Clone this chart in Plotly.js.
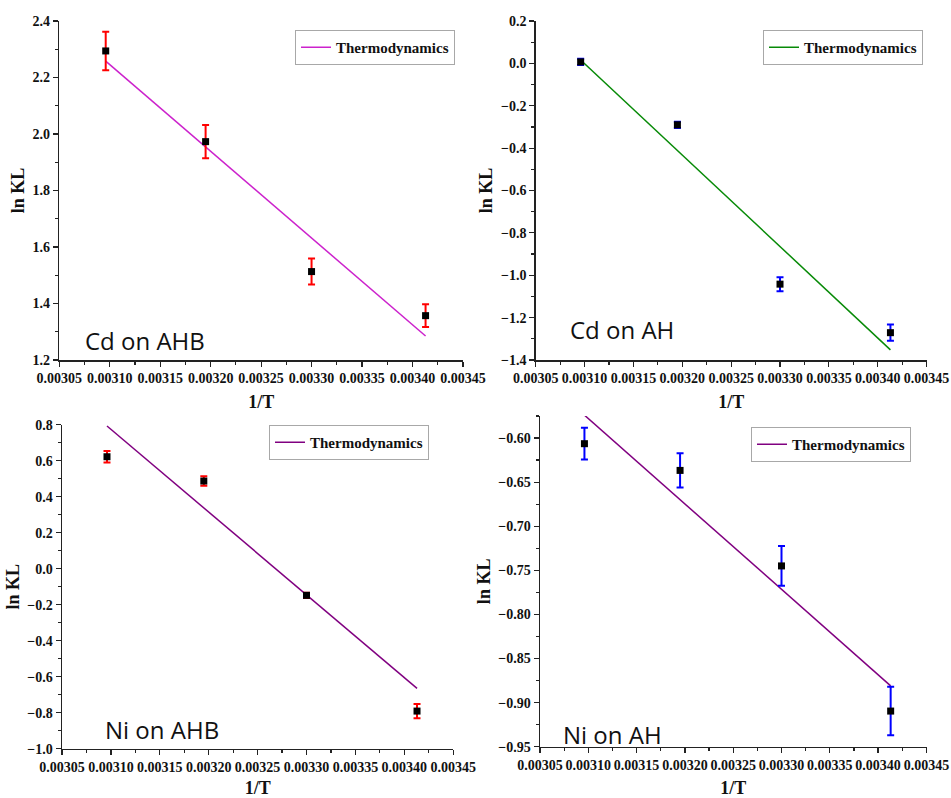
<!DOCTYPE html>
<html>
<head>
<meta charset="utf-8">
<script src="https://cdn.plot.ly/plotly-3.0.1.min.js"></script>
<style>html,body{margin:0;padding:0;background:#fff;}#chart{width:951px;height:798px;}</style>
</head>
<body>
<div id="chart"></div>
<script>
// 1/T values (K^-1)
const invT = [0.003096, 0.003195, 0.0033, 0.003413];
const fitX = [0.003096, 0.003413];

// Cd on AHB
const cdAHB = [2.294, 1.973, 1.513, 1.357];
const cdAHBErr = [0.068, 0.059, 0.046, 0.040];
const cdAHBFit = [2.258, 1.285];

// Cd on AH
const cdAH = [0.007, -0.290, -1.042, -1.271];
const cdAHErr = [0.015, 0.015, 0.033, 0.038];
const cdAHFit = [0.016, -1.352];

// Ni on AHB
const niAHB = [0.622, 0.487, -0.148, -0.791];
const niAHBErr = [0.032, 0.026, 0.015, 0.040];
const niAHBFit = [0.793, -0.665];

// Ni on AH
const niAH = [-0.6064, -0.6367, -0.745, -0.9096];
const niAHErr = [0.018, 0.0195, 0.0225, 0.0275];
const niAHFit = [-0.574, -0.881];

const panelLabels = ["Cd on AHB", "Cd on AH", "Ni on AHB", "Ni on AH"];
const legendName = "Thermodynamics";
const xTitle = "1/T";
const yTitle = "ln KL";

const W = 951, H = 798;
const serif = '"Liberation Serif", "Times New Roman", serif';

function pts(x, y, err, errColor, xa, ya) {
  return {
    x: x, y: y, type: "scatter", mode: "markers", showlegend: false,
    xaxis: xa, yaxis: ya,
    marker: {symbol: "square", size: 7, color: "#000"},
    error_y: {type: "data", array: err, visible: true, color: errColor, thickness: 2, width: 3.5},
    cliponaxis: false
  };
}
function fit(x, y, color, xa, ya, lg) {
  return {
    x: x, y: y, type: "scatter", mode: "lines", name: "<b>" + legendName + "</b>",
    xaxis: xa, yaxis: ya, legend: lg,
    line: {color: color, width: 1.5}
  };
}

const data = [
  fit(fitX, cdAHBFit, "#cc22cc", "x", "y", "legend"),
  pts(invT, cdAHB, cdAHBErr, "#ff0000", "x", "y"),
  fit(fitX, cdAHFit, "#078a07", "x2", "y2", "legend2"),
  pts(invT, cdAH, cdAHErr, "#0000ff", "x2", "y2"),
  fit(fitX, niAHBFit, "#800080", "x3", "y3", "legend3"),
  pts(invT, niAHB, niAHBErr, "#ff0000", "x3", "y3"),
  fit(fitX, niAHFit, "#800080", "x4", "y4", "legend4"),
  pts(invT, niAH, niAHErr, "#0000ff", "x4", "y4")
];

const tickFont = {family: serif, size: 14, color: "#111", weight: 700};

function xax(l, r, anchor) {
  return {
    domain: [l / W, r / W], anchor: anchor, range: [0.00305, 0.0034501],
    dtick: 0.00005, tick0: 0.00305, tickformat: ".5f", ticklabeloverflow: "allow",
    showgrid: false, zeroline: false, showline: true, linecolor: "#222", linewidth: 1.5,
    ticks: "outside", ticklen: 5, tickwidth: 1.2, tickcolor: "#222",
    minor: {dtick: 0.000025, ticks: "outside", ticklen: 3, tickcolor: "#222", showgrid: false},
    tickfont: tickFont,
    title: {text: "<b>" + xTitle + "</b>", font: {family: serif, size: 18, color: "#111"}, standoff: 10}
  };
}
function yax(t, b, anchor, range, dtick, minor, fmt) {
  return {
    domain: [1 - b / H, 1 - t / H], anchor: anchor, range: range, dtick: dtick, tickformat: fmt,
    ticklabeloverflow: "allow",
    showgrid: false, zeroline: false, showline: true, linecolor: "#222", linewidth: 1.5,
    ticks: "outside", ticklen: 5, tickwidth: 1.2, tickcolor: "#222",
    minor: {dtick: minor, ticks: "outside", ticklen: 3, tickcolor: "#222", showgrid: false},
    tickfont: tickFont,
    title: {text: "<b>" + yTitle + "</b>", font: {family: serif, size: 18, color: "#111"}, standoff: 3}
  };
}
function leg(x, y) {
  return {
    x: x / W, y: 1 - y / H, xanchor: "left", yanchor: "top",
    bgcolor: "rgba(255,255,255,0)", bordercolor: "#a8a8a8", borderwidth: 1,
    font: {family: serif, size: 15, color: "#111"},
    itemwidth: 30, tracegroupgap: 0
  };
}
const sans = "Open Sans";
function lab(text, x, y) {
  return {text: text, xref: "paper", yref: "paper", x: x / W, y: 1 - y / H,
    xanchor: "left", yanchor: "middle", showarrow: false,
    font: {family: sans, size: 24, color: "#111"}};
}

const layout = {
  width: W, height: H,
  margin: {l: 0, r: 0, t: 0, b: 0},
  paper_bgcolor: "#fff", plot_bgcolor: "#fff",
  xaxis: xax(59.3, 463, "y"),
  yaxis: yax(21, 360, "x", [1.2, 2.4], 0.2, 0.1, ".1f"),
  xaxis2: xax(535.7, 926.7, "y2"),
  yaxis2: yax(21, 360, "x2", [-1.4, 0.2], 0.2, 0.1, ".1f"),
  xaxis3: xax(62, 453.3, "y3"),
  yaxis3: yax(424.7, 748.7, "x3", [-1.0, 0.8], 0.2, 0.1, ".1f"),
  xaxis4: xax(540, 926.5, "y4"),
  yaxis4: yax(416, 746.7, "x4", [-0.95, -0.575], 0.05, 0.025, ".2f"),
  legend: leg(295, 30),
  legend2: leg(763, 30),
  legend3: leg(269, 425),
  legend4: leg(751, 427),
  annotations: [
    lab(panelLabels[0], 83, 340),
    lab(panelLabels[1], 568, 330),
    lab(panelLabels[2], 103, 729),
    lab(panelLabels[3], 561, 734)
  ]
};

Plotly.newPlot("chart", data, layout, {staticPlot: true, displayModeBar: false});
</script>
</body>
</html>
